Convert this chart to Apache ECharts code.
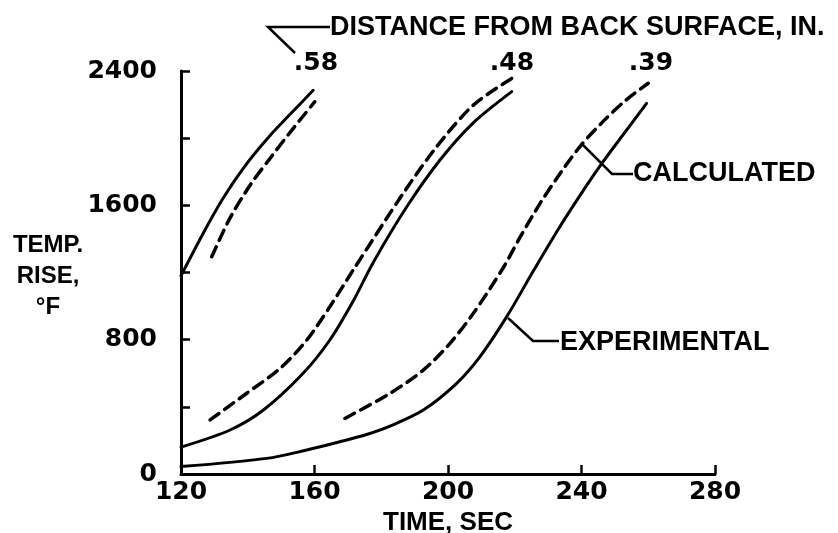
<!DOCTYPE html>
<html>
<head>
<meta charset="utf-8">
<script src="https://cdn.jsdelivr.net/npm/echarts@6/dist/echarts.min.js"></script>
<style>
    html, body { margin: 0; padding: 0; background: #fff; }
    #chart { width: 838px; height: 533px; }
</style>
</head>
<body>
<div id="chart"></div>
<script>
// 坐标轴刻度
const xTicks = [120, 160, 200, 240, 280];
const yTicks = [0, 800, 1600, 2400];

// .58 in. 实验值 / 计算值
const exp58Time = [120, 126.7, 132.7, 139.7, 146.7, 152.7, 159.6];
const exp58Temp = [1180, 1435, 1645, 1848, 2016, 2142, 2285];
const calc58Time = [129.2, 134.7, 140.7, 146.7, 152.7, 160.1];
const calc58Temp = [1294, 1525, 1720, 1880, 2035, 2217];

// .48 in.
const exp48Time = [120, 134.7, 144.7, 156.6, 164.6, 171.6, 177.6, 187.6, 197.6, 207.5, 219.1];
const exp48Temp = [160, 262, 381, 600, 798, 1030, 1260, 1590, 1870, 2090, 2277];
const calc48Time = [128.7, 139.7, 149.7, 157.7, 164.6, 171.6, 186.6, 196.6, 207.6, 219.1];
const calc48Temp = [322, 481, 629, 798, 996, 1215, 1672, 1949, 2197, 2356];

// .39 in.
const exp39Time = [120, 145.7, 157.7, 167.6, 175.6, 182.6, 192.6, 202.6, 209.6, 217.6, 225.6, 233.6, 241.6, 246.1, 251.5, 259.5];
const exp39Temp = [44, 93, 143, 192, 235, 285, 381, 540, 699, 937, 1210, 1475, 1720, 1850, 1995, 2207];
const calc39Time = [169.1, 182.6, 192.6, 200.6, 207.6, 216.6, 221.6, 227.6, 233.6, 239.9, 246.5, 253.5, 260];
const calc39Temp = [331, 480, 619, 778, 957, 1230, 1410, 1612, 1790, 1959, 2100, 2230, 2327];

const NUM_FONT = 'DejaVu Sans';
const TXT_FONT = 'Liberation Sans';

function pairs(xs, ys) {
    return xs.map((x, i) => [x, ys[i]]);
}

function curve(name, xs, ys, dashed) {
    return {
        name: name,
        type: 'line',
        data: pairs(xs, ys),
        smooth: 0.3,
        showSymbol: false,
        silent: true,
        lineStyle: {
            color: '#000',
            width: dashed ? 3.5 : 3,
            type: dashed ? [11, 7] : 'solid',
            cap: 'round'
        }
    };
}

function label(text, x, y, align, font) {
    return {
        type: 'text',
        x: x,
        y: y,
        style: {
            text: text,
            font: font || 'bold 27px "' + TXT_FONT + '"',
            fill: '#000',
            align: align || 'left',
            verticalAlign: 'middle'
        }
    };
}

function leader(points) {
    return {
        type: 'polyline',
        shape: { points: points },
        style: { stroke: '#000', lineWidth: 2.5, fill: null }
    };
}

let myChart = echarts.init(document.getElementById('chart'));
let option = {
    backgroundColor: '#fff',
    animation: false,
    grid: {
        left: 181,
        right: 123,
        top: 71,
        bottom: 59,
        containLabel: false,
        outerBoundsMode: 'none'
    },
    xAxis: {
        type: 'value',
        min: 120,
        max: 280,
        interval: 40,
        name: 'TIME, SEC',
        nameLocation: 'middle',
        nameGap: 33,
        nameTextStyle: { fontFamily: TXT_FONT, fontWeight: 'bold', fontSize: 26, color: '#000' },
        axisLine: { lineStyle: { color: '#000', width: 3 } },
        axisTick: { inside: true, length: 9, lineStyle: { color: '#000', width: 2.5 } },
        axisLabel: {
            margin: 6,
            fontFamily: NUM_FONT,
            fontWeight: 'bold',
            fontSize: 25,
            color: '#000',
            formatter: v => xTicks.indexOf(v) >= 0 ? String(v) : ''
        },
        splitLine: { show: false }
    },
    yAxis: {
        type: 'value',
        min: 0,
        max: 2400,
        interval: 400,
        axisLine: { show: true, lineStyle: { color: '#000', width: 3 } },
        axisTick: { show: true, inside: true, length: 9, lineStyle: { color: '#000', width: 2.5 } },
        axisLabel: {
            margin: 24,
            fontFamily: NUM_FONT,
            fontWeight: 'bold',
            fontSize: 25,
            color: '#000',
            formatter: v => yTicks.indexOf(v) >= 0 ? String(v) : ''
        },
        splitLine: { show: false }
    },
    series: [
        curve('.58 experimental', exp58Time, exp58Temp, false),
        curve('.58 calculated', calc58Time, calc58Temp, true),
        curve('.48 experimental', exp48Time, exp48Temp, false),
        curve('.48 calculated', calc48Time, calc48Temp, true),
        curve('.39 experimental', exp39Time, exp39Temp, false),
        curve('.39 calculated', calc39Time, calc39Temp, true)
    ],
    graphic: [
        // 纵轴名称
        {
            type: 'text',
            x: 48,
            y: 230,
            style: {
                text: 'TEMP.\nRISE,\n°F',
                font: 'bold 24px "' + TXT_FONT + '"',
                lineHeight: 31,
                fill: '#000',
                align: 'center',
                verticalAlign: 'top'
            }
        },
        // 距离标注
        label('DISTANCE FROM BACK SURFACE, IN.', 330, 28),
        leader([[330, 27], [268, 27], [295, 53]]),
        label('.58', 316, 63, 'center', 'bold 25px "' + NUM_FONT + '"'),
        label('.48', 512, 63, 'center', 'bold 25px "' + NUM_FONT + '"'),
        label('.39', 651, 63, 'center', 'bold 25px "' + NUM_FONT + '"'),
        // 计算值 / 实验值
        label('CALCULATED', 633, 174),
        leader([[582, 144], [612, 174], [633, 174]]),
        label('EXPERIMENTAL', 560, 343),
        leader([[508, 318], [533, 341], [559, 341]])
    ]
};
myChart.setOption(option);
</script>
</body>
</html>
